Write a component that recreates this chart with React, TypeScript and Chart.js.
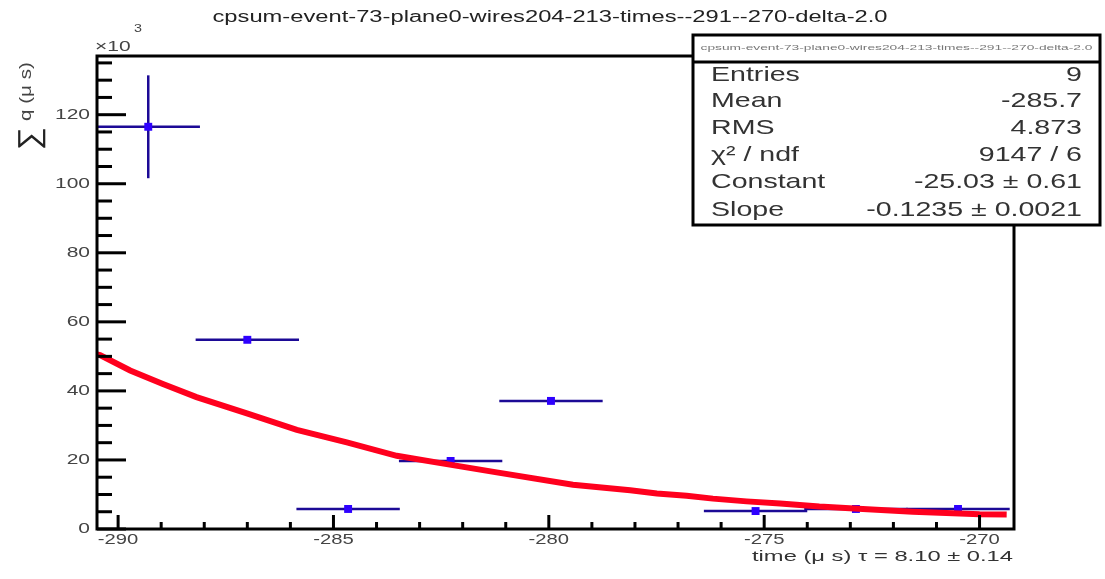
import React, { useEffect, useRef } from 'react';
import { Chart, registerables } from 'chart.js';

Chart.register(...registerables);

// ---------- data ----------
const titleText = 'cpsum-event-73-plane0-wires204-213-times--291--270-delta-2.0';
const xAxisTitle = 'time (\u03bc s) \u03c4 = 8.10 \u00b1 0.14';
const yAxisTitleSum = '\u2211';
const yAxisTitleRest = 'q (\u03bc s)';
const yExponent = '3';

const binCenters = [-289.3, -287.0, -284.66, -282.28, -279.95, -277.6, -275.2, -272.87, -270.5];
const binWidth = 2.4;
const binValues: (number | null)[] = [116.5, 54.8, 5.8, 19.7, 37.1, null, 5.2, 5.8, 5.8];
const binErrors = [14.9, 0, 0, 0, 0, 0, 0, 0, 0];

const fitX = [-290.49, -290.42, -289.72, -288.96, -288.18, -287.01, -285.85, -284.69, -283.53, -282.37, -281.21, -279.44, -278.11, -277.49, -276.8, -276.19, -275.41, -274.63, -273.72, -272.71, -271.55, -270.0, -269.37];
const fitY = [50.6, 50.4, 45.9, 42.0, 38.2, 33.5, 28.7, 25.1, 21.2, 18.8, 16.4, 12.8, 11.2, 10.3, 9.6, 8.8, 8.0, 7.4, 6.5, 5.8, 5.0, 4.3, 4.2];

const xTickLabels = [-290, -285, -280, -275, -270];
const yTickLabels = [0, 20, 40, 60, 80, 100, 120];

const statsLabels = ['Entries', 'Mean', 'RMS', '\u03c7\u00b2 / ndf', 'Constant', 'Slope'];
const statsValues = ['9', '-285.7', '4.873', '9147 / 6', '-25.03 \u00b1 0.61', '-0.1235 \u00b1 0.0021'];

const X_MIN = -290.49;
const X_MAX = -269.2;
const Y_MIN = 0;
const Y_MAX = 137;

// ---------- helpers ----------
const FONT = '"Liberation Sans", Arial, "DejaVu Sans", sans-serif';

function scaledText(ctx: CanvasRenderingContext2D, text: string, x: number, y: number, size: number, sx: number, align: CanvasTextAlign, color: string) {
  ctx.save();
  ctx.font = `${size}px ${FONT}`;
  ctx.fillStyle = color;
  ctx.textAlign = align;
  ctx.textBaseline = 'middle';
  ctx.translate(x, y);
  ctx.scale(sx, 1);
  ctx.fillText(text, 0, 0);
  ctx.restore();
}

function fitText(ctx: CanvasRenderingContext2D, text: string, x: number, y: number, size: number, width: number, align: CanvasTextAlign, color: string) {
  ctx.save();
  ctx.font = `${size}px ${FONT}`;
  const w = ctx.measureText(text).width || 1;
  ctx.restore();
  scaledText(ctx, text, x, y, size, width / w, align, color);
}

const rootPlugin = {
  id: 'rootStyle',
  afterDraw(chart: any) {
    const ctx: CanvasRenderingContext2D = chart.ctx;
    const area = chart.chartArea;
    const xs = chart.scales.x;
    const ys = chart.scales.y;
    ctx.save();

    // frame
    ctx.strokeStyle = '#000';
    ctx.lineWidth = 3;
    ctx.strokeRect(area.left, area.top, area.right - area.left, area.bottom - area.top);

    // y ticks (inside)
    ctx.lineWidth = 3;
    for (let v = Y_MIN; v <= Y_MAX; v += 5) {
      const p = ys.getPixelForValue(v);
      const major = yTickLabels.includes(v);
      const len = major ? 29 : 15;
      ctx.beginPath();
      ctx.moveTo(area.left, p);
      ctx.lineTo(area.left + len, p);
      ctx.stroke();
    }
    // x ticks (inside)
    for (let v = xTickLabels[0]; v <= xTickLabels[xTickLabels.length - 1]; v += 1) {
      const p = xs.getPixelForValue(v);
      const major = xTickLabels.includes(v);
      const len = major ? 14 : 7;
      ctx.beginPath();
      ctx.moveTo(p, area.bottom);
      ctx.lineTo(p, area.bottom - len);
      ctx.stroke();
    }

    // tick labels
    const tickColor = '#444';
    yTickLabels.forEach((v) => {
      scaledText(ctx, String(v), 90, ys.getPixelForValue(v), 15, 1.4, 'right', tickColor);
    });
    xTickLabels.forEach((v) => {
      scaledText(ctx, String(v), xs.getPixelForValue(v), 540, 15, 1.35, 'center', tickColor);
    });

    // x10^3
    scaledText(ctx, '\u00d710', 95, 47, 15, 1.4, 'left', tickColor);
    scaledText(ctx, yExponent, 134, 29, 11, 1.3, 'left', tickColor);

    // title
    fitText(ctx, titleText, 550, 18, 16, 675, 'center', '#222');

    // x axis title
    fitText(ctx, xAxisTitle, 1013, 557, 15, 261, 'right', '#333');

    // y axis title (rotated)
    ctx.save();
    ctx.translate(31, 150);
    ctx.rotate(-Math.PI / 2);
    fitText(ctx, yAxisTitleSum, 0, 0, 30, 23, 'left', '#222');
    ctx.restore();
    ctx.save();
    ctx.translate(27, 121);
    ctx.rotate(-Math.PI / 2);
    fitText(ctx, yAxisTitleRest, 0, 0, 16, 59, 'left', '#444');
    ctx.restore();

    // stats box
    const bx = 693, by = 35, bw = 407, bh = 190;
    ctx.fillStyle = '#fff';
    ctx.fillRect(bx, by, bw, bh);
    ctx.strokeStyle = '#000';
    ctx.lineWidth = 3;
    ctx.strokeRect(bx, by, bw, bh);
    ctx.beginPath();
    ctx.moveTo(bx, 62);
    ctx.lineTo(bx + bw, 62);
    ctx.stroke();
    fitText(ctx, titleText, bx + bw / 2, 48, 8, 392, 'center', '#777');

    const rowY = [75, 101, 128, 155, 182, 210];
    statsLabels.forEach((lab, i) => {
      scaledText(ctx, lab, 711, rowY[i], 21, 1.36, 'left', '#333');
      scaledText(ctx, statsValues[i], 1082, rowY[i], 21, 1.36, 'right', '#333');
    });

    ctx.restore();
  },
};

export default function App() {
  const canvasRef = useRef<HTMLCanvasElement | null>(null);

  useEffect(() => {
    const canvas = canvasRef.current;
    if (!canvas) return;

    const errColor = '#1c0a96';
    const datasets: any[] = [];

    // fit curve (on top)
    datasets.push({
      label: 'fit',
      data: fitX.map((x, i) => ({ x, y: fitY[i] })),
      showLine: true,
      borderColor: 'rgb(255,0,30)',
      borderWidth: 6,
      pointRadius: 0,
      tension: 0,
      order: 0,
    });

    // markers
    datasets.push({
      label: 'data',
      data: binCenters
        .map((x, i) => ({ x, y: binValues[i] }))
        .filter((p) => p.y !== null),
      showLine: false,
      pointStyle: 'rect',
      pointRadius: 5.6,
      backgroundColor: '#2e00ff',
      borderWidth: 0,
      order: 1,
    });

    // horizontal error bars (bin width)
    binCenters.forEach((c, i) => {
      const v = binValues[i];
      if (v === null) return;
      datasets.push({
        label: 'xerr' + i,
        data: [
          { x: c - binWidth / 2, y: v },
          { x: c + binWidth / 2, y: v },
        ],
        showLine: true,
        borderColor: errColor,
        borderWidth: 2.5,
        pointRadius: 0,
        order: 2,
      });
      if (binErrors[i] > 0) {
        datasets.push({
          label: 'yerr' + i,
          data: [
            { x: c, y: v - binErrors[i] },
            { x: c, y: v + binErrors[i] },
          ],
          showLine: true,
          borderColor: errColor,
          borderWidth: 2.5,
          pointRadius: 0,
          order: 2,
        });
      }
    });

    const chart = new Chart(canvas, {
      type: 'scatter',
      data: { datasets },
      options: {
        animation: false,
        responsive: false,
        maintainAspectRatio: false,
        layout: { padding: { left: 97, right: 91, top: 56, bottom: 50 } },
        scales: {
          x: { type: 'linear', min: X_MIN, max: X_MAX, display: false },
          y: { type: 'linear', min: Y_MIN, max: Y_MAX, display: false },
        },
        plugins: {
          legend: { display: false },
          tooltip: { enabled: false },
          title: { display: false },
        },
      } as any,
      plugins: [rootPlugin],
    });

    return () => chart.destroy();
  }, []);

  return (
    <div style={{ position: 'fixed', left: 0, top: 0, width: 1105, height: 579, background: '#fff' }}>
      <canvas ref={canvasRef} width={1105} height={579} style={{ display: 'block' }} />
    </div>
  );
}
